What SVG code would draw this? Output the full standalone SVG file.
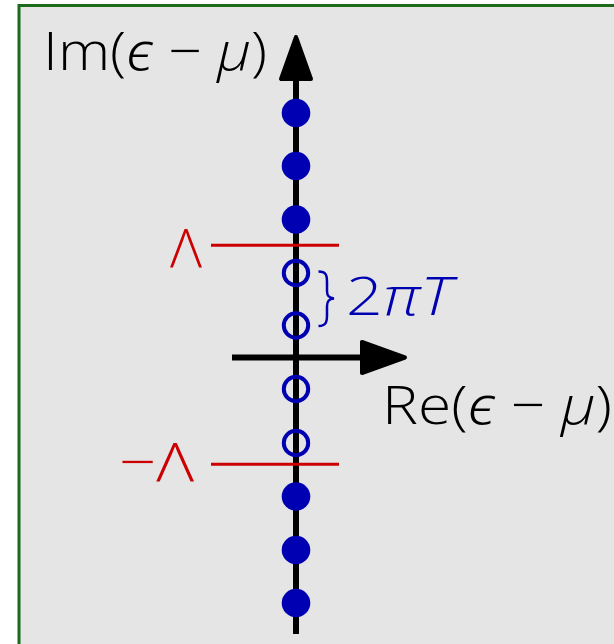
<svg xmlns="http://www.w3.org/2000/svg" width="614" height="644" viewBox="0 0 614 644">
<defs>
<style>
.lbl{font-family:"Open Sans","Liberation Sans",sans-serif;font-weight:300;font-size:54px}
.it{font-style:italic}
.eps{font-family:"Noto Sans","DejaVu Sans",sans-serif;font-weight:300;font-style:italic}
.axis{stroke:#000;stroke-width:6;fill:none}
.head{fill:#000;stroke:#000;stroke-width:4;stroke-linejoin:round}
.full{fill:#0000b3}
.open{fill:none;stroke:#0000b3;stroke-width:4}
.cut{stroke:#cc0000;stroke-width:3}
</style>
</defs>
<rect x="19" y="5.5" width="620" height="660" fill="#e5e5e5" stroke="#1b6b1b" stroke-width="3"/>
<g id="connectors">
<line class="axis" x1="296" y1="634" x2="296" y2="70"/>
<polygon class="head" points="296,37 281,79 311,79"/>
<line class="axis" x1="232" y1="357.5" x2="370" y2="357.5"/>
<polygon class="head" points="405,357.5 362,342 362,373"/>
<line class="cut" x1="211" y1="245.3" x2="339" y2="245.3"/>
<line class="cut" x1="211" y1="464.3" x2="339" y2="464.3"/>
<path d="M318.5,271.5 C326,271.5 327,275 327,282 L327,291 C327,296 329,298 334,298.5 C329,299 327,301 327,306 L327,315 C327,322 326,326 318.5,326" fill="none" stroke="#0000b3" stroke-width="2.5"/>
</g>
<g id="poles">
<circle class="full" cx="296" cy="113" r="14.3"/>
<circle class="full" cx="296" cy="166" r="14.3"/>
<circle class="full" cx="296" cy="219.5" r="14.3"/>
<circle class="open" cx="296" cy="273" r="12.2"/>
<circle class="open" cx="296" cy="325.5" r="12.2"/>
<circle class="open" cx="296" cy="389" r="12.2"/>
<circle class="open" cx="296" cy="443" r="12.2"/>
<circle class="full" cx="296" cy="496.5" r="14.3"/>
<circle class="full" cx="296" cy="550" r="14.3"/>
<circle class="full" cx="296" cy="603" r="14.3"/>
</g>
<g id="label-im"><text class="lbl" x="43" y="70" textLength="224" lengthAdjust="spacingAndGlyphs">Im(<tspan class="eps">ϵ</tspan> − <tspan class="it">μ</tspan>)</text></g>
<g id="label-re"><text class="lbl" x="382" y="424" textLength="230" lengthAdjust="spacingAndGlyphs">Re(<tspan class="eps">ϵ</tspan> − <tspan class="it">μ</tspan>)</text></g>
<g id="label-lambda"><text class="lbl" x="170" y="267" fill="#cc0000" textLength="32" lengthAdjust="spacingAndGlyphs">Λ</text></g>
<g id="label-mlambda"><text class="lbl" x="119" y="481" fill="#cc0000" textLength="75" lengthAdjust="spacingAndGlyphs">−Λ</text></g>
<g id="label-2piT"><text class="lbl" x="346" y="315" fill="#0000b3" textLength="106" lengthAdjust="spacingAndGlyphs">2<tspan class="it">πT</tspan></text></g>
</svg>
